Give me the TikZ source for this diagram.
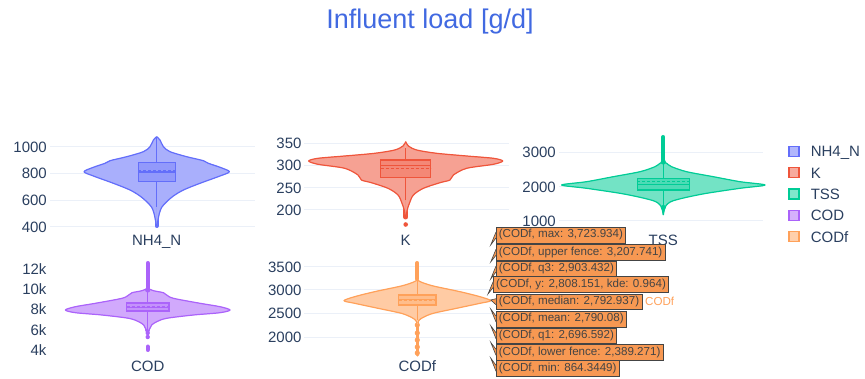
\documentclass[tikz,border=0pt]{standalone}
\usepackage{fontspec}
\setmainfont{Liberation Sans}
\usepackage{xcolor}
\usepackage{tikz}
\usetikzlibrary{positioning, calc}
\definecolor{mytitle}{RGB}{65,105,225}
\definecolor{mytext}{RGB}{42,63,95}
\definecolor{mygrid}{RGB}{235,240,248}
\definecolor{myblue}{RGB}{99,110,250}
\definecolor{myred}{RGB}{239,85,59}
\definecolor{mygreen}{RGB}{0,204,150}
\definecolor{mypurple}{RGB}{171,99,250}
\definecolor{myorange}{RGB}{255,161,90}
\definecolor{myhover}{RGB}{247,152,82}
\definecolor{myborder}{RGB}{68,68,68}
\tikzstyle{tick} = [anchor=east, text=mytext, font=\fontsize{15}{18}\selectfont, inner sep=0pt, text height=10.7pt, text depth=0pt]
\tikzstyle{axislabel} = [text=mytext, font=\fontsize{15}{18}\selectfont, inner sep=0pt, text height=10.7pt, text depth=0pt]
\tikzstyle{gridline} = [mygrid, line width=1pt]
\tikzstyle{hover} = [anchor=west, draw=myborder, fill=myhover, text=myborder, font=\fontsize{11.6}{13}\selectfont, inner xsep=2.6pt, inner ysep=0pt, minimum height=15.5pt, text height=8.3pt, text depth=2.4pt]
\tikzstyle{pointer} = [fill=myhover, draw=myborder, line width=0.6pt]
\tikzstyle{legendbox} = [minimum size=10pt, inner sep=0pt, line width=1.2pt]
\tikzstyle{legendtext} = [text=mytext, font=\fontsize{15}{18}\selectfont, inner sep=0pt, text height=10.7pt, text depth=0pt]
% #1 centre x, #2 colour, #3 right half of the outline
\newcommand\violin[3]{%
  \foreach \s in {1,-1}{
    \begin{scope}[shift={(#1,0)}, xscale=\s]
      \filldraw[fill=#2!55, draw=#2!55, line width=0.4pt] plot[smooth] coordinates {#3} -- cycle;
      \draw[#2, line width=1.2pt, line join=round] plot[smooth] coordinates {#3};
    \end{scope}}}
% #1 centre x, #2 half width, #3 top, #4 bottom, #5 median, #6 mean, #7 colour
\newcommand\violinbox[7]{%
  \draw[#7, line width=1.2pt, fill=#7!70] (#1-#2,#3) rectangle (#1+#2,#4);
  \draw[#7, line width=1.2pt] (#1-#2,#5) -- (#1+#2,#5);
  \draw[#7, line width=1pt, dash pattern=on 3pt off 2pt] (#1-#2,#6) -- (#1+#2,#6);}

\begin{document}
\begin{tikzpicture}[x=1pt, y=-1pt]
    \useasboundingbox (0,0) rectangle (865,379);

    \node (title) [text=mytitle, font=\fontsize{27}{30}\selectfont, inner sep=0pt] at (430,21.7) {Influent load [g/d]};

    % axes and grid
    \foreach \v/\y in {1000/146.7, 800/173.3, 600/200.3, 400/227} {
        \draw[gridline] (50,\y) -- (255,\y);
        \node (nh\v) [tick] at (47,\y) {\v};
    }
    \foreach \v/\y in {350/143.3, 300/165.3, 250/187.7, 200/210} {
        \draw[gridline] (304,\y) -- (509,\y);
        \node (k\v) [tick] at (301.7,\y) {\v};
    }
    \foreach \v/\y in {3000/152.3, 2000/186.7, 1000/221} {
        \draw[gridline] (559,\y) -- (763,\y);
        \node (tss\v) [tick] at (556,\y) {\v};
    }
    \foreach \v/\y in {12/269.3, 10/289.3, 8/309.3, 6/330, 4/350} {
        \node (cod\v) [tick] at (46.7,\y) {\v k};
    }
    \foreach \v/\y in {3500/266.7, 3000/290, 2500/313.3, 2000/337.3} {
        \draw[gridline] (304,\y) -- (509,\y);
        \node (codf\v) [tick] at (301.7,\y) {\v};
    }

    % NH4_N
    \draw[myblue, line width=4pt, line cap=round] (156.7,207) -- (156.7,226);
    \violin{156.7}{myblue}{(0,136.7) (3.3,140) (6.7,146.7) (13.3,151.7) (30,156.7) (46.7,160.7) (51.7,163.3) (63.3,167.3) (72.7,171.7) (63.3,176) (43.3,183.3) (26.7,190) (16.7,196) (10,201.7) (5,207.3) (2.7,213.3) (1.3,220) (0,226.7)}
    \draw[myblue, line width=1.2pt] (156.7,137) -- (156.7,207);
    \violinbox{156.7}{18.5}{162.7}{181.3}{172}{170.5}{myblue}
    \node (xnh) [axislabel] at (156.7,240) {NH4\_N};

    % K
    \draw[myred, line width=5pt, line cap=round] (405.7,200) -- (405.7,217);
    \fill[myred] (405.7,224.5) circle (2.3);
    \violin{405.7}{myred}{(0,141.7) (2.7,146) (11,150) (31,153.3) (61,156) (87.7,158.3) (97,161) (87.7,164.3) (61,168.3) (47.7,175) (44.3,180) (34.3,182.7) (17.7,188.3) (7.7,195) (3.7,203.3) (1.5,210) (0,218)}
    \draw[myred, line width=1.2pt] (405.7,148) -- (405.7,200);
    \violinbox{405.7}{25}{160}{177.3}{165.7}{169}{myred}
    \node (xk) [axislabel] at (405.7,240) {K};

    % TSS
    \draw[mygreen, line width=4pt, line cap=round] (663.3,137) -- (663.3,160);
    \violin{663.3}{mygreen}{(0,161.7) (3.3,163.3) (8.3,166.7) (23.3,171.7) (50,176.7) (76.7,181.7) (101.7,185) (76.7,188.3) (43.3,193.3) (23.3,197.3) (10,200.7) (5,203.3) (1.7,207.3) (0,215)}
    \draw[mygreen, line width=1.2pt] (663.3,162) -- (663.3,214);
    \fill[mygreen] (663.3,162) circle (2.6) (663.3,207.5) circle (2.6);
    \violinbox{663.3}{26}{178.3}{190}{184.3}{181.7}{mygreen}
    \node (xtss) [axislabel] at (663.3,240) {TSS};

    % COD
    \draw[mypurple, line width=4pt, line cap=round] (147.7,263) -- (147.7,289);
    \draw[mypurple, line width=5pt, line cap=round] (147.7,318) -- (147.7,330);
    \draw[mypurple, line width=4pt, line cap=round] (147.7,346.5) -- (147.7,350);
    \violin{147.7}{mypurple}{(0,288.3) (5.7,290.7) (15.7,292.7) (19,295) (25.7,298.3) (52.3,303.3) (72.3,306.7) (82.3,310) (72.3,312.7) (45.7,315) (19,318.3) (9,321.7) (4,325) (2.3,328.3) (0,332)}
    \draw[mypurple, line width=1.2pt] (147.7,290) -- (147.7,338);
    \fill[mypurple] (147.7,290) circle (2.6) (147.7,333) circle (2.2) (147.7,337) circle (2.2);
    \violinbox{147.7}{21.2}{303}{311}{307.5}{306.3}{mypurple}
    \node (xcod) [axislabel] at (147.7,366) {COD};

    % CODf
    \draw[myorange, line width=4pt, line cap=round] (417.3,263) -- (417.3,279);
    \draw[myorange, line width=3.5pt, line cap=round] (417.3,320) -- (417.3,355);
    \foreach \y in {325, 333, 340, 347, 353}
        \fill[myorange] (417.3,\y) circle (2.6);
    \violin{417.3}{myorange}{(0,280) (4.3,282.3) (16,286) (42.7,291.7) (62.7,296.7) (73.3,300.7) (62.7,303.3) (39.3,308.3) (16,313.3) (6,317.3) (2,320) (0,323.3)}
    \draw[myorange, line width=1.2pt] (417.3,279) -- (417.3,320);
    \violinbox{417.3}{18.7}{295}{305}{299.5}{300.3}{myorange}
    \node (xcodf) [axislabel] at (417.3,366) {CODf};

    % hover labels
    \foreach \n/\t/\y/\ty/\x/\px in {
        max/{(CODf, max: 3,723.934)}/235/245/496/490.7,
        ufence/{(CODf, upper fence: 3,207.741)}/252.3/262/496/490.7,
        qthree/{(CODf, q3: 2,903.432)}/269/279/496/490.7,
        kde/{(CODf, y: 2,808.151, kde: 0.964)}/284.3/294/493.3/488,
        median/{(CODf, median: 2,792.937)}/301.7/300/496/490.7,
        mean/{(CODf, mean: 2,790.08)}/319/309/496/490.7,
        qone/{(CODf, q1: 2,696.592)}/335.7/325.7/496/490.7,
        lfence/{(CODf, lower fence: 2,389.271)}/352.3/342.3/496/490.7,
        min/{(CODf, min: 864.3449)}/368.3/358/496/490.7} {
        \node (h\n) [hover] at (\x,\y) {\t};
        \coordinate (p\n) at (\px,\ty);
        \filldraw[pointer] ($(h\n.west)+(0,-3)$) -- (p\n) -- ($(h\n.west)+(0,3)$);
    }
    \node (hname) [right=3pt of hmedian, text=myorange, font=\fontsize{11.6}{13}\selectfont, inner sep=0pt] {CODf};

    % legend
    \foreach \name/\col [count=\i] in {NH4\_N/myblue, K/myred, TSS/mygreen, COD/mypurple, CODf/myorange} {
        \node (lb\i) [legendbox, draw=\col, fill=\col!50] at (794,151.3+21.4*\i-21.4) {};
        \node (lt\i) [legendtext, right=11pt of lb\i] {\name};
    }
\end{tikzpicture}
\end{document}
